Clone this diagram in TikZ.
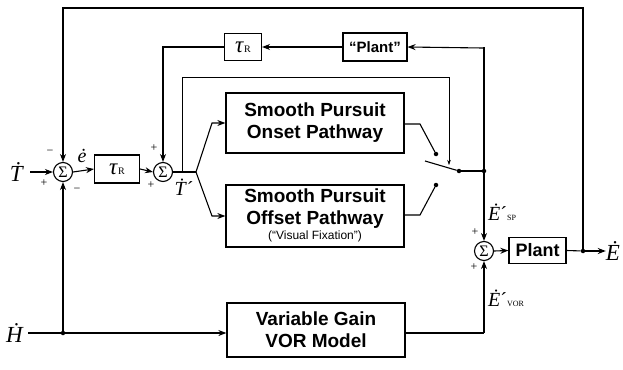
\documentclass[tikz,border=0pt]{standalone}
\usepackage{fontspec}
\setmainfont{Liberation Serif}
\newfontfamily\boxfont{Liberation Sans}
\usetikzlibrary{arrows.meta}
\newcommand{\dt}[1]{\textit{\.{#1}}}
\newcommand{\smc}[1]{{\fontsize{8}{8}\selectfont #1}}
\newcommand{\taur}{{\fontsize{23}{23}\selectfont\textit{τ}}{\fontsize{10}{10}\selectfont R}}
\begin{document}
\begin{tikzpicture}[x=1pt,y=-1pt,
  ln/.style={line width=1.1pt},
  arr/.style={ln,-{Stealth[length=8pt,width=6pt]}},
  tarr/.style={line width=0.5pt,-{Stealth[length=5pt,width=3.5pt]}},
  blk/.style={draw,line width=1.3pt,align=center,font=\boxfont\bfseries\fontsize{19}{22}\selectfont,inner sep=0pt},
  sblk/.style={draw,line width=1.1pt,inner sep=0pt},
  sumn/.style={circle,draw,line width=1.1pt,minimum size=19pt,inner sep=0pt,font=\fontsize{16}{16}\selectfont},
  dotn/.style={circle,fill,inner sep=0pt,minimum size=4.5pt},
  lab/.style={font=\fontsize{23}{23}\selectfont,inner sep=0pt},
  slab/.style={font=\fontsize{20}{20}\selectfont,inner sep=0pt},
  sg/.style={font=\fontsize{12}{12}\selectfont,inner sep=0pt}]
\useasboundingbox (0,0) rectangle (623,369);
% nodes
\node[lab] (Tin) at (17,172) {\dt{T}};
\node[sumn] (s1) at (63,172) {Σ};
\node[sblk,minimum width=45pt,minimum height=28pt] (tau1) at (117,169) {\taur};
\node[sumn] (s2) at (163,172) {Σ};
\coordinate (br) at (196,172);
\node[blk,minimum width=178pt,minimum height=60pt] (on) at (315,123) {Smooth Pursuit\\Onset Pathway};
\node[blk,minimum width=178pt,minimum height=62pt] (off) at (315,216) {};
\node[align=center,font=\boxfont\bfseries\fontsize{19}{22}\selectfont,inner sep=0pt] at (315,209) {Smooth Pursuit\\Offset Pathway};
\node[font=\boxfont\fontsize{12}{12}\selectfont,inner sep=0pt] at (315,236) {(“Visual Fixation”)};
\node[sblk,minimum width=37pt,minimum height=27pt] (tau2) at (243,47) {\taur};
\node[sblk,minimum width=64pt,minimum height=28pt,font=\boxfont\bfseries\fontsize{15}{15}\selectfont] (pq) at (375,47) {“Plant”};
\node[dotn] (c1) at (436,154) {};
\node[dotn] (c2) at (436,185) {};
\node[dotn] (pv) at (459,171) {};
\coordinate (bl) at (425,161);
\node[dotn] (j1) at (484,171) {};
\node[sumn] (s3) at (484,251) {Σ};
\node[sblk,line width=1.3pt,minimum width=57pt,minimum height=26pt,font=\boxfont\bfseries\fontsize{18}{18}\selectfont] (pl) at (537.5,250.5) {Plant};
\node[dotn] (j2) at (583,251) {};
\node[lab] (Eout) at (613,251) {\dt{E}};
\node[lab] (Hin) at (15,333) {\dt{H}};
\node[dotn] (j3) at (63,333) {};
\node[blk,minimum width=178pt,minimum height=54pt] (vor) at (316,330) {Variable Gain\\VOR Model};
\coordinate (vc) at (484,333);
\coordinate (tstart) at (30,172);
\coordinate (hstart) at (28,333);
% connectors
\draw[arr] (tstart) -- (s1.west);
\draw[arr] (s1.east) -- (tau1.west);
\draw[arr] (tau1.east) -- (s2.west);
\draw[ln] (s2.east) -- (br);
\draw[arr] (br) -- (212,123) -- (on.west);
\draw[arr] (br) -- (212,216) -- (off.west);
\draw[ln] (on.east |- 0,124) -- (420,124) -- (c1);
\draw[ln] (off.east |- 0,215) -- (420,215) -- (c2);
\draw[ln] (bl) -- (pv);
\draw[ln] (pv) -- (j1);
\draw[ln] (j1) |- (483,48);
\draw[arr] (483,48) -- (pq.east);
\draw[arr] (pq.west) -- (tau2.east);
\draw[arr] (tau2.west) -| (s2.north);
\draw[tarr] (182,172) -- (182,77) -| (449,165);
\draw[arr] (j1) -- (s3.north);
\draw[arr] (s3.east) -- (pl.west);
\draw[ln] (pl.east) -- (j2);
\draw[arr] (j2) -- (Eout.west);
\draw[arr] (j2) |- (63,8) -- (s1.north);
\draw[ln] (hstart) -- (j3);
\draw[arr] (j3) -- (vor.west |- j3);
\draw[arr] (j3) -- (s1.south);
\draw[ln] (vor.east |- vc) -- (vc);
\draw[arr] (vc) -- (s3.south);
% labels
\node[sg] at (50,152) {−};
\node[sg] at (44,183) {+};
\node[sg] at (77,190) {−};
\node[slab] at (82,156) {\dt{e}};
\node[sg] at (154,148) {+};
\node[sg] at (151,185) {+};
\node[slab] at (184,187) {\dt{T}´};
\node[sg] at (475,232) {+};
\node[sg] at (474,267) {+};
\node[slab,anchor=west] at (488,212) {\dt{E}´\smc{SP}};
\node[slab,anchor=west] at (488,298) {\dt{E}´\smc{VOR}};
\end{tikzpicture}
\end{document}
